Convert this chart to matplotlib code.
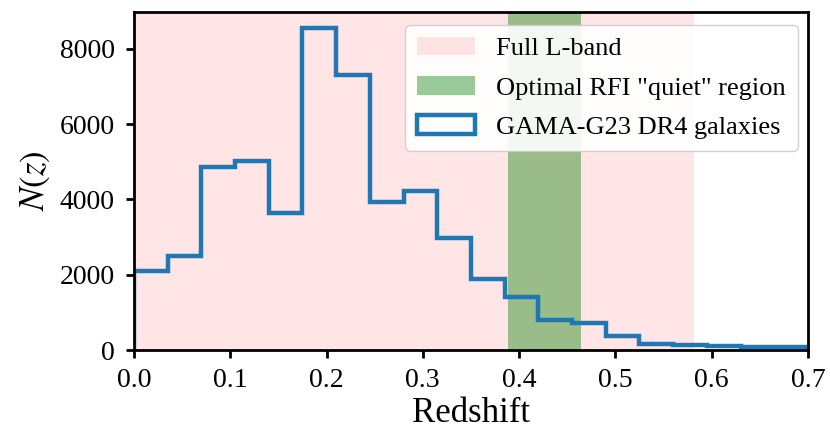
import numpy as np
import matplotlib
matplotlib.use("Agg")
import matplotlib.pyplot as plt

plt.rcParams['font.family'] = ['Liberation Serif', 'DejaVu Serif']
plt.rcParams['mathtext.fontset'] = 'stix'

# redshift histogram, bin width 0.035
bin_edges = np.linspace(0.0, 0.7, 21)
counts = [2100, 2500, 4850, 5030, 3630, 8560, 7320, 3930, 4230, 2990,
          1880, 1400, 810, 710, 380, 160, 140, 100, 90, 80]

lband = (0.0, 0.582)
quiet = (0.388, 0.464)

fig = plt.figure(figsize=(8.3, 4.29), dpi=100)
ax = fig.add_axes([0.1614, 0.184, 0.812, 0.788])

ax.axvspan(lband[0], lband[1], color='red', alpha=0.1, lw=0, label='Full L-band')
ax.axvspan(quiet[0], quiet[1], color='green', alpha=0.4, lw=0,
           label='Optimal RFI "quiet" region')

centers = 0.5 * (bin_edges[:-1] + bin_edges[1:])
ax.hist(centers, bins=bin_edges, weights=counts, histtype='step',
        lw=3.2, color='#1f77b4', label='GAMA-G23 DR4 galaxies')

ax.set_xlim(0, 0.7)
ax.set_ylim(0, 8980)
ax.set_xticks(np.arange(0, 0.71, 0.1))
ax.set_yticks([0, 2000, 4000, 6000, 8000])
ax.tick_params(axis='y', labelsize=20, width=2, length=6, pad=8)
ax.tick_params(axis='x', labelsize=20, width=2, length=6, pad=7)
for s in ax.spines.values():
    s.set_linewidth(2)

ax.set_xlabel('Redshift', fontsize=25, labelpad=3)
ax.set_ylabel(r'$N(z)$', fontsize=25, labelpad=5)

ax.legend(loc='upper right', fontsize=19, handlelength=2.2, borderpad=0.45,
          labelspacing=0.6, handletextpad=0.8, framealpha=0.9,
          borderaxespad=0, bbox_to_anchor=(0.985, 0.962))

plt.savefig('out.png', dpi=100)
